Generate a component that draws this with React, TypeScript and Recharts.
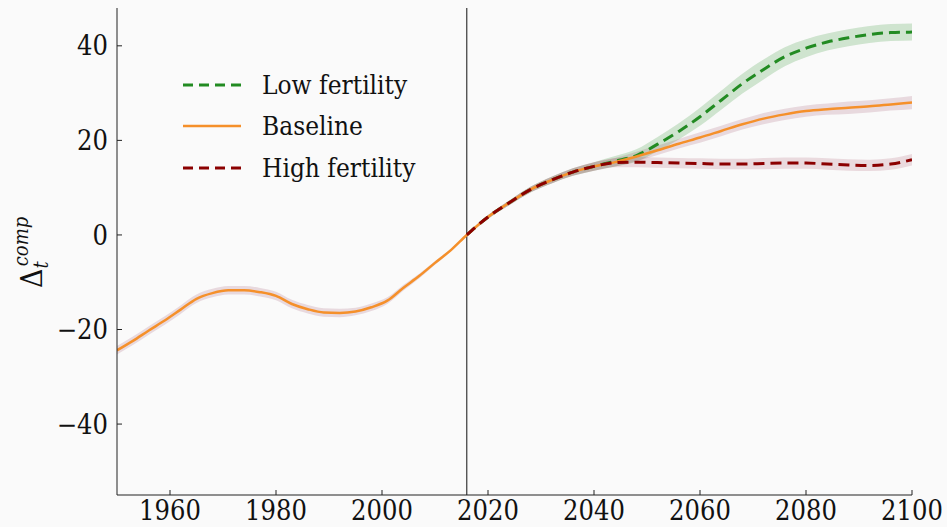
import { ComposedChart, Line, Area, XAxis, YAxis, ReferenceLine } from "recharts";

// Composition term Δ_t^comp: reconstructed history up to 2016, then three
// fertility scenarios out to 2100, each with its uncertainty band.

const histYears = [1950, 1953, 1956, 1959, 1962, 1965, 1968, 1971, 1974, 1977, 1980, 1983, 1986, 1989, 1992, 1995, 1998, 2001, 2004, 2007, 2010, 2013];
const histBase = [-24.4, -22.4, -20.2, -18.1, -15.8, -13.5, -12.3, -11.7, -11.7, -12.1, -12.9, -14.6, -15.7, -16.4, -16.5, -16.2, -15.3, -13.9, -11.2, -8.7, -5.9, -3.2];
const histSpread = [0.9, 0.9, 0.9, 0.9, 0.9, 0.9, 0.9, 0.9, 0.9, 0.9, 0.9, 0.9, 0.9, 0.9, 0.9, 0.8, 0.8, 0.7, 0.6, 0.5, 0.4, 0.3];

const projYears = [2016, 2020, 2024, 2028, 2032, 2036, 2040, 2044, 2048, 2052, 2056, 2060, 2064, 2068, 2072, 2076, 2080, 2084, 2088, 2092, 2096, 2100];
const projBase = [0, 3.8, 6.8, 9.6, 11.6, 13.3, 14.5, 15.4, 16.6, 17.9, 19.3, 20.6, 22.0, 23.4, 24.6, 25.5, 26.2, 26.6, 26.9, 27.2, 27.6, 28.0];
const projBaseSpread = [0.2, 0.4, 0.5, 0.6, 0.7, 0.8, 0.9, 0.9, 1.0, 1.0, 1.0, 1.1, 1.1, 1.1, 1.2, 1.2, 1.2, 1.2, 1.3, 1.3, 1.3, 1.4];
const projLow = [0, 3.8, 6.8, 9.6, 11.6, 13.3, 14.5, 15.6, 16.8, 19.2, 21.9, 25.0, 28.5, 32.0, 35.0, 37.7, 39.5, 40.8, 41.7, 42.4, 42.8, 42.9];
const projLowSpread = [0.2, 0.4, 0.5, 0.6, 0.7, 0.8, 0.9, 1.1, 1.3, 1.5, 1.7, 1.9, 2.0, 2.1, 2.1, 2.0, 1.9, 1.8, 1.8, 1.8, 1.8, 1.8];
const projHigh = [0, 3.8, 6.8, 9.6, 11.6, 13.3, 14.5, 15.3, 15.4, 15.3, 15.2, 15.1, 15.0, 15.0, 15.1, 15.2, 15.2, 15.0, 14.8, 14.7, 15.0, 15.9];
const projHighSpread = [0.2, 0.4, 0.5, 0.6, 0.7, 0.8, 0.9, 1.0, 1.1, 1.1, 1.1, 1.1, 1.1, 1.1, 1.2, 1.2, 1.2, 1.2, 1.2, 1.2, 1.2, 1.2];

const xTicks = [1960, 1980, 2000, 2020, 2040, 2060, 2080, 2100];
const yTicks = [-40, -20, 0, 20, 40];
const splitYear = 2016;

const legendItems = [
  { name: "Low fertility", color: "#228b22", dashed: true },
  { name: "Baseline", color: "#f5902a", dashed: false },
  { name: "High fertility", color: "#8b0000", dashed: true },
];

const rows = [
  ...histYears.map((year, i) => ({
    year,
    base: histBase[i],
    baseBand: [histBase[i] - histSpread[i], histBase[i] + histSpread[i]],
  })),
  ...projYears.map((year, i) => ({
    year,
    base: projBase[i],
    baseBand: [projBase[i] - projBaseSpread[i], projBase[i] + projBaseSpread[i]],
    low: projLow[i],
    lowBand: [projLow[i] - projLowSpread[i], projLow[i] + projLowSpread[i]],
    high: projHigh[i],
    highBand: [projHigh[i] - projHighSpread[i], projHigh[i] + projHighSpread[i]],
  })),
];

const FONT = "'DejaVu Serif Condensed', 'DejaVu Serif', serif";
const tickStyle = { fontSize: 27, fill: "#111", fontFamily: FONT, fontStretch: "condensed" };
const axisColor = "#222";

function fmtY(v: number) {
  return v < 0 ? `\u2212${Math.abs(v)}` : `${v}`;
}

function YLabel() {
  return (
    <text transform="rotate(-90)" x={-288} y={42} fontFamily={FONT} fill="#111">
      <tspan fontSize={30}>Δ</tspan>
      <tspan fontSize={20} fontStyle="italic" dy={6}>t</tspan>
      <tspan fontSize={20} fontStyle="italic" dx={-5} dy={-20}>comp</tspan>
    </text>
  );
}

export default function App() {
  return (
    <div style={{ position: "absolute", left: 0, top: 0, width: 947, height: 527, background: "#fafafa" }}>
      <ComposedChart width={947} height={527} data={rows} margin={{ top: 8, right: 35, bottom: 0, left: 0 }}>
        <XAxis
          dataKey="year"
          type="number"
          domain={[1950, 2100]}
          ticks={xTicks}
          height={32}
          tickSize={-5}
          tickMargin={11}
          tick={tickStyle}
          stroke={axisColor}
          allowDataOverflow
        />
        <XAxis
          xAxisId="top"
          orientation="top"
          dataKey="year"
          type="number"
          domain={[1950, 2100]}
          ticks={xTicks}
          height={0}
          tickSize={-5}
          tickFormatter={() => ""}
          stroke={axisColor}
        />
        <YAxis
          domain={[-55, 48]}
          ticks={yTicks}
          width={117}
          tickSize={-5}
          tickMargin={14}
          tick={tickStyle}
          tickFormatter={fmtY}
          stroke={axisColor}
          allowDataOverflow
          label={<YLabel />}
        />
        <YAxis
          yAxisId="right"
          orientation="right"
          domain={[-55, 48]}
          ticks={yTicks}
          width={0}
          tickSize={-5}
          tickFormatter={() => ""}
          stroke={axisColor}
        />
        <ReferenceLine x={splitYear} stroke="#111" strokeWidth={1} />

        <Area dataKey="lowBand" type="monotone" stroke="none" fill="rgba(34,139,34,0.2)" fillOpacity={1} isAnimationActive={false} activeDot={false} />
        <Area dataKey="baseBand" type="monotone" stroke="none" fill="rgba(140,50,80,0.16)" fillOpacity={1} isAnimationActive={false} activeDot={false} />
        <Area dataKey="highBand" type="monotone" stroke="none" fill="rgba(140,30,60,0.14)" fillOpacity={1} isAnimationActive={false} activeDot={false} />

        <Line dataKey="low" type="monotone" stroke="#228b22" strokeWidth={3} strokeDasharray="11 6" dot={false} activeDot={false} isAnimationActive={false} />
        <Line dataKey="base" type="monotone" stroke="#f5902a" strokeWidth={2.5} dot={false} activeDot={false} isAnimationActive={false} />
        <Line dataKey="high" type="monotone" stroke="#8b0000" strokeWidth={3} strokeDasharray="11 6" dot={false} activeDot={false} isAnimationActive={false} />
      </ComposedChart>

      <div style={{ position: "absolute", left: 183, top: 64, fontFamily: FONT, fontStretch: "condensed", fontSize: 26, color: "#111" }}>
        {legendItems.map((item) => (
          <div key={item.name} style={{ display: "flex", alignItems: "center", height: 41.5 }}>
            <svg width={58} height={6} style={{ marginRight: 21 }}>
              <line
                x1={0}
                y1={3}
                x2={58}
                y2={3}
                stroke={item.color}
                strokeWidth={item.dashed ? 3 : 2.5}
                strokeDasharray={item.dashed ? "10 6" : undefined}
              />
            </svg>
            <span>{item.name}</span>
          </div>
        ))}
      </div>
    </div>
  );
}
